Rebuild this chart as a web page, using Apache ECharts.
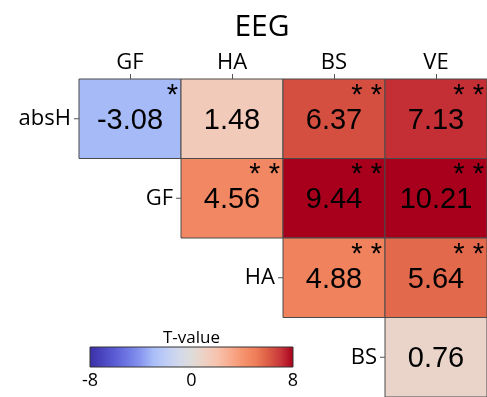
<!DOCTYPE html>
<html>
<head>
<meta charset="utf-8">
<script src="https://cdn.jsdelivr.net/npm/echarts@6/dist/echarts.min.js"></script>
<style>
  html, body { margin: 0; padding: 0; background: #ffffff; }
  #chart { width: 487px; height: 397px; }
</style>
</head>
<body>
<div id="chart"></div>
<script>
// Column and row categories of the upper-triangular T-value matrix
const colLabels = ['GF', 'HA', 'BS', 'VE'];
const rowLabels = ['absH', 'GF', 'HA', 'BS'];

// T-values per row (null = empty lower triangle)
const rowAbsH = [-3.08, 1.48, 6.37, 7.13];
const rowGF   = [null, 4.56, 9.44, 10.21];
const rowHA   = [null, null, 4.88, 5.64];
const rowBS   = [null, null, null, 0.76];

// Significance markers per row
const starsAbsH = ['*', '', '**', '**'];
const starsGF   = ['', '**', '**', '**'];
const starsHA   = ['', '', '**', '**'];
const starsBS   = ['', '', '', ''];

// Colour bar range and ticks
const scaleMin = -8;
const scaleMax = 8;
const barTicks = [-8, 0, 8];

// Diverging palette sampled at every integer from -8 to 8
const palette = [
  '#3b2fa5', '#4a45bf', '#5b5dd4', '#6f78e4', '#8896ef', '#a9bdf8', '#bfcdf5', '#d2d8ec',
  '#dedcda',
  '#eed1c4', '#f7c3ae', '#f8ac8f', '#f6946f', '#ef7f5a', '#dc5d45', '#c8363a', '#a8001c'
];

const valueRows = [rowAbsH, rowGF, rowHA, rowBS];
const starRows = [starsAbsH, starsGF, starsHA, starsBS];

function hexToRgb(h) {
  return [parseInt(h.slice(1, 3), 16), parseInt(h.slice(3, 5), 16), parseInt(h.slice(5, 7), 16)];
}
function colorFor(v) {
  const c = Math.max(scaleMin, Math.min(scaleMax, v));
  const pos = (c - scaleMin) / (scaleMax - scaleMin) * (palette.length - 1);
  const i = Math.min(palette.length - 2, Math.floor(pos));
  const f = pos - i;
  const a = hexToRgb(palette[i]);
  const b = hexToRgb(palette[i + 1]);
  const m = a.map((x, k) => Math.round(x + (b[k] - x) * f));
  return 'rgb(' + m.join(',') + ')';
}

// Flatten matrix into [col, row, value, stars]
const cells = [];
valueRows.forEach((row, r) => {
  row.forEach((v, c) => {
    if (v !== null) cells.push([c, r, v, starRows[r][c]]);
  });
});

// First filled column of each row, where its label sits
const rowStarts = valueRows.map((row, r) => [row.findIndex(v => v !== null), r]);

const FONT_LABEL = '"Open Sans", Lato, sans-serif';
const FONT_NUM = '"Liberation Sans", Arial, sans-serif';

const chart = echarts.init(document.getElementById('chart'), null, { renderer: 'canvas' });

const gradientStops = palette.map((col, i) => ({ offset: i / (palette.length - 1), color: col }));
const barX = 90, barY = 347, barW = 203, barH = 20;

chart.setOption({
  animation: false,
  title: {
    text: 'EEG',
    left: 257,
    top: 7,
    textAlign: 'center',
    textStyle: { fontFamily: FONT_LABEL, fontSize: 30, fontWeight: 'normal', color: '#000' }
  },
  grid: { left: 79, top: 79, width: 411, height: 320, containLabel: false },
  xAxis: {
    type: 'category',
    position: 'top',
    data: colLabels,
    axisLine: { show: false },
    axisTick: { show: true, alignWithLabel: true, length: 5, lineStyle: { color: '#555' } },
    axisLabel: { margin: 5, fontFamily: FONT_LABEL, fontSize: 22, color: '#000' },
    splitLine: { show: false }
  },
  yAxis: {
    type: 'category',
    data: rowLabels,
    inverse: true,
    show: false
  },
  series: [
    {
      type: 'custom',
      name: 'cells',
      data: cells,
      renderItem: function (params, api) {
        const c = api.value(0), r = api.value(1);
        const v = cells[params.dataIndex][2];
        const s = cells[params.dataIndex][3];
        const p = api.coord([c, r]);
        const sz = api.size([1, 1]);
        const x0 = p[0] - sz[0] / 2, y0 = p[1] - sz[1] / 2;
        const children = [
          {
            type: 'rect',
            shape: { x: x0, y: y0, width: sz[0], height: sz[1] },
            style: { fill: colorFor(v), stroke: '#4a4a4a', lineWidth: 1 }
          },
          {
            type: 'text',
            style: {
              text: v.toFixed(2), x: p[0], y: p[1] + 2,
              align: 'center', verticalAlign: 'middle',
              font: '29px ' + FONT_NUM, fill: '#000'
            }
          }
        ];
        if (s) {
          children.push({
            type: 'text',
            style: {
              text: s.split('').join(' '), x: x0 + sz[0] - 3, y: y0 + 2,
              align: 'right', verticalAlign: 'top',
              font: '29px ' + FONT_NUM, fill: '#000'
            }
          });
        }
        return { type: 'group', children: children };
      }
    },
    {
      type: 'custom',
      name: 'rowLabels',
      data: rowStarts,
      renderItem: function (params, api) {
        const c = api.value(0), r = api.value(1);
        const p = api.coord([c, r]);
        const sz = api.size([1, 1]);
        const xl = p[0] - sz[0] / 2;
        return {
          type: 'group',
          children: [
            {
              type: 'line',
              shape: { x1: xl - 5, y1: p[1], x2: xl, y2: p[1] },
              style: { stroke: '#555', lineWidth: 1 }
            },
            {
              type: 'text',
              style: {
                text: rowLabels[r], x: xl - 8, y: p[1],
                align: 'right', verticalAlign: 'middle',
                font: '22px ' + FONT_LABEL, fill: '#000'
              }
            }
          ]
        };
      }
    }
  ],
  graphic: [
    {
      type: 'text',
      x: barX + barW / 2, y: 338,
      style: { text: 'T-value', font: '17px ' + FONT_LABEL, fill: '#000', align: 'center', verticalAlign: 'middle' }
    },
    {
      type: 'rect',
      shape: { x: barX, y: barY, width: barW, height: barH },
      style: {
        fill: new echarts.graphic.LinearGradient(0, 0, 1, 0, gradientStops),
        stroke: '#333', lineWidth: 1
      }
    }
  ].concat(barTicks.map(t => ({
    type: 'text',
    x: barX + (t - scaleMin) / (scaleMax - scaleMin) * barW,
    y: 381,
    style: { text: String(t), font: '18px ' + FONT_LABEL, fill: '#000', align: 'center', verticalAlign: 'middle' }
  })))
});
</script>
</body>
</html>
